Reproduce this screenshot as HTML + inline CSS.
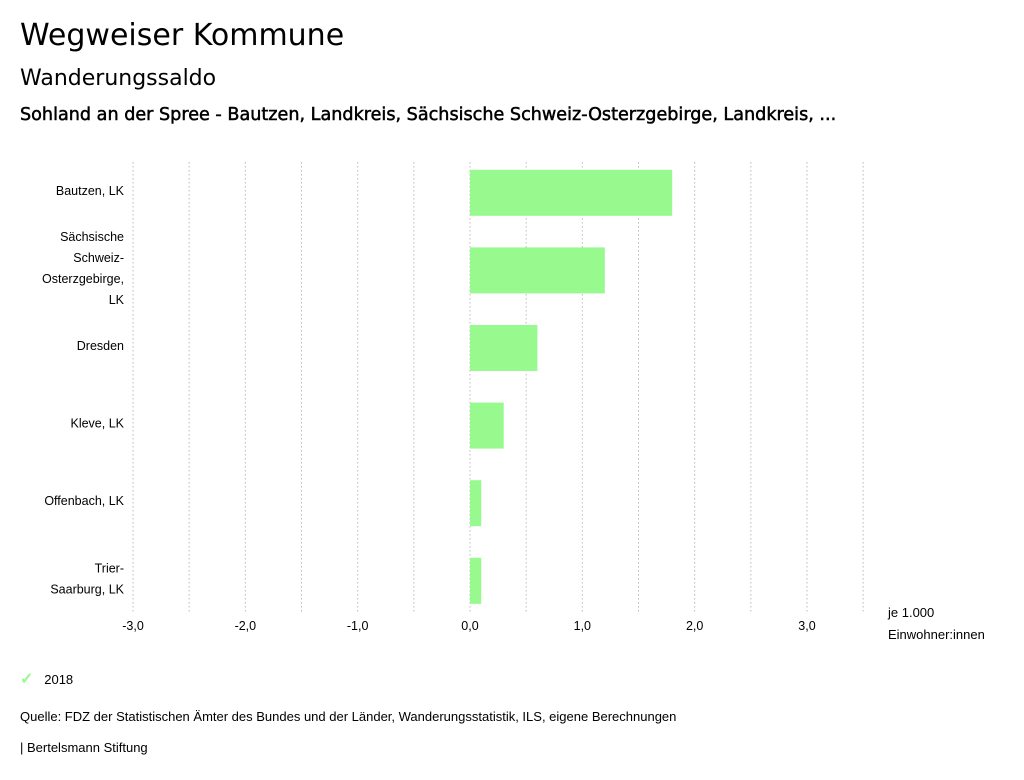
<!DOCTYPE html>
<html><head><meta charset="utf-8"><style>
body{margin:0;width:1024px;height:780px;background:#fff;font-family:"Liberation Sans",sans-serif;color:#000;position:relative;overflow:hidden}
.t{position:absolute;white-space:nowrap}
</style></head><body>
<div class="t" style="left:20px;top:18px;font-family:'DejaVu Sans',sans-serif;font-size:30px">Wegweiser Kommune</div>
<div class="t" style="left:20px;top:66px;font-family:'DejaVu Sans',sans-serif;font-size:22px">Wanderungssaldo</div>
<div class="t" style="left:20px;top:105px;font-family:'DejaVu Sans',sans-serif;font-size:17.6px;-webkit-text-stroke:0.5px #000">Sohland an der Spree - Bautzen, Landkreis, Sächsische Schweiz-Osterzgebirge, Landkreis, ...</div>
<svg id="chart" width="1024" height="780" style="position:absolute;left:0;top:0"></svg>
<div class="t" style="left:20px;top:669px;font-size:13px"><span style="color:#98f98f;font-size:16px;font-weight:bold">✓</span>&nbsp;&nbsp;&nbsp;2018</div>
<div class="t" style="left:20px;top:709px;font-size:13px">Quelle: FDZ der Statistischen Ämter des Bundes und der Länder, Wanderungsstatistik, ILS, eigene Berechnungen</div>
<div class="t" style="left:20px;top:740px;font-size:13px">| Bertelsmann Stiftung</div>
<script>
const categories=[["Bautzen, LK"],["Sächsische","Schweiz-","Osterzgebirge,","LK"],["Dresden"],["Kleve, LK"],["Offenbach, LK"],["Trier-","Saarburg, LK"]];
const values=[1.8,1.2,0.6,0.3,0.1,0.1];
const ticks=[-3,-2,-1,0,1,2,3];
const tickLabels=["-3,0","-2,0","-1,0","0,0","1,0","2,0","3,0"];
const svg=document.getElementById('chart');
const NS='http://www.w3.org/2000/svg';
const x=v=>470+v*112.33;
const top0=154,band=77.6;
const y=i=>top0+i*band;
function mk(t,a){const e=document.createElementNS(NS,t);for(const k in a)e.setAttribute(k,a[k]);svg.appendChild(e);return e;}
for(let g=-3;g<=3.5;g+=0.5){const l=mk('line',{x1:x(g),x2:x(g),y1:162,y2:612,stroke:'#bbb','stroke-dasharray':'1.5,2.5'});

}
ticks.forEach((t,i)=>{const e=mk('text',{x:x(t),y:630,'text-anchor':'middle','font-size':12.5,'font-family':'Liberation Sans'});e.textContent=tickLabels[i];

});
values.forEach((v,i)=>{const x0=Math.min(x(0),x(v)),w=Math.abs(x(v)-x(0));
const r=mk('rect',{x:x0,y:y(i)+(band-46)/2,width:w,height:46,fill:'#98f98f'});


const lines=categories[i];const cy=y(i)+band/2;
lines.forEach((s,j)=>{const e=mk('text',{x:124,y:cy+2+(j-(lines.length-1)/2)*21,'text-anchor':'end','font-size':12.5,'font-family':'Liberation Sans'});e.textContent=s;

});});
[["je 1.000",617],["Einwohner:innen",639]].forEach(a=>{const e=mk('text',{x:888,y:a[1],'font-size':13,'font-family':'Liberation Sans'});e.textContent=a[0];

});
</script>
</body></html>
